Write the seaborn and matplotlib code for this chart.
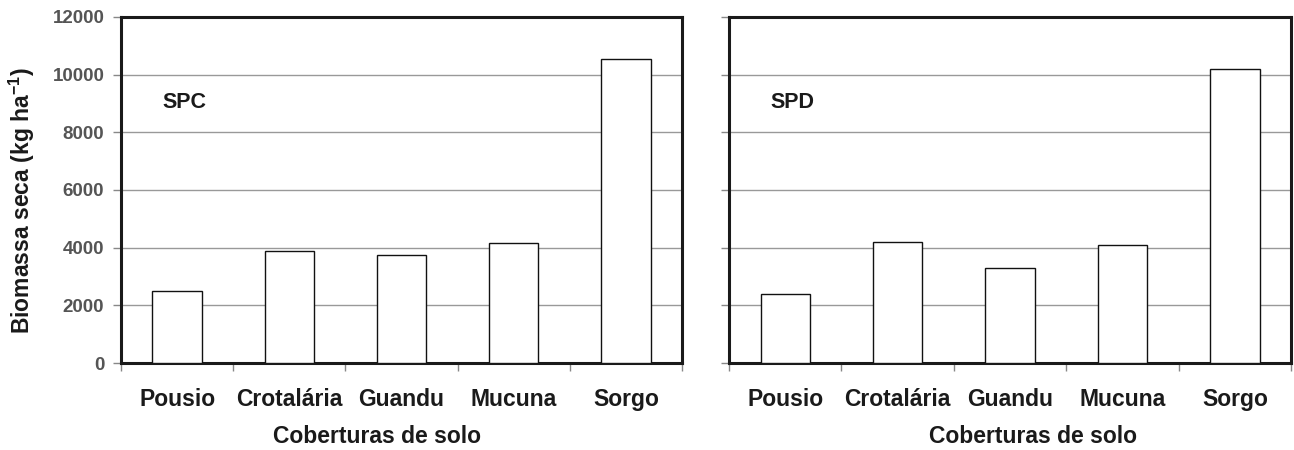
import numpy as np
import pandas as pd
import matplotlib
matplotlib.use("Agg")
import matplotlib.pyplot as plt
import seaborn as sns

sns.set_style("white")
plt.rcParams['font.family'] = ['Liberation Sans', 'DejaVu Sans']
plt.rcParams['mathtext.fontset'] = 'custom'
plt.rcParams['mathtext.bf'] = 'Liberation Sans:bold'

coberturas = ['Pousio', 'Crotalária', 'Guandu', 'Mucuna', 'Sorgo']
spc = [2500, 3900, 3750, 4150, 10550]
spd = [2400, 4200, 3300, 4100, 10200]
yticks = [0, 2000, 4000, 6000, 8000, 10000, 12000]

df = pd.DataFrame({'cobertura': coberturas * 2,
                   'biomassa': spc + spd,
                   'sistema': ['SPC'] * 5 + ['SPD'] * 5})

fig = plt.figure(figsize=(12.94, 4.5), dpi=100)
ax1 = fig.add_axes([0.0935, 0.1933, 0.4335, 0.769])
ax2 = fig.add_axes([0.5634, 0.1933, 0.4343, 0.769])

for ax, nome, xlab_x in [(ax1, 'SPC', 0.457), (ax2, 'SPD', 0.54)]:
    sub = df[df['sistema'] == nome]
    sns.barplot(data=sub, x='cobertura', y='biomassa', order=coberturas,
                color='white', edgecolor='#111111', linewidth=1.0,
                width=0.44, ax=ax, zorder=3)
    ax.set_ylim(0, 12000)
    ax.set_xlim(-0.5, 4.5)
    ax.set_yticks(yticks)
    ax.yaxis.grid(True, color='#999999', linewidth=1.0, zorder=0)
    ax.set_axisbelow(True)
    for s in ax.spines.values():
        s.set_color('#1a1a1a')
        s.set_linewidth(2.2)
        s.set_visible(True)
    ax.set_xticks(range(5))
    ax.set_xticks(np.arange(-0.5, 5, 1), minor=True)
    ax.tick_params(axis='x', which='major', length=0, pad=18)
    ax.tick_params(axis='x', which='minor', length=6, color='#888888',
                   width=1, direction='out', bottom=True)
    ax.tick_params(axis='y', length=6, color='#888888', width=1,
                   direction='out', left=True, pad=6)
    for lab in ax.get_xticklabels():
        lab.set_fontsize(16.5)
        lab.set_fontweight('bold')
        lab.set_color('#1a1a1a')
    ax.set_xlabel('Coberturas de solo', fontsize=16.5, fontweight='bold',
                  color='#1a1a1a')
    ax.xaxis.set_label_coords(xlab_x, -0.178)
    ax.text(0.074, 0.754, nome, transform=ax.transAxes, fontsize=15.5,
            fontweight='bold', color='#1a1a1a', ha='left', va='center')

for lab in ax1.get_yticklabels():
    lab.set_fontsize(13.5)
    lab.set_fontweight('bold')
    lab.set_color('#555555')
ax1.set_ylabel('Biomassa seca (kg ha$^{\\mathbf{-1}}$)', fontsize=16.5,
               fontweight='bold', color='#1a1a1a')
ax1.yaxis.set_label_coords(-0.15, 0.47)
ax2.set_yticklabels([])
ax2.set_ylabel('')

fig.savefig('out.png', dpi=100)
